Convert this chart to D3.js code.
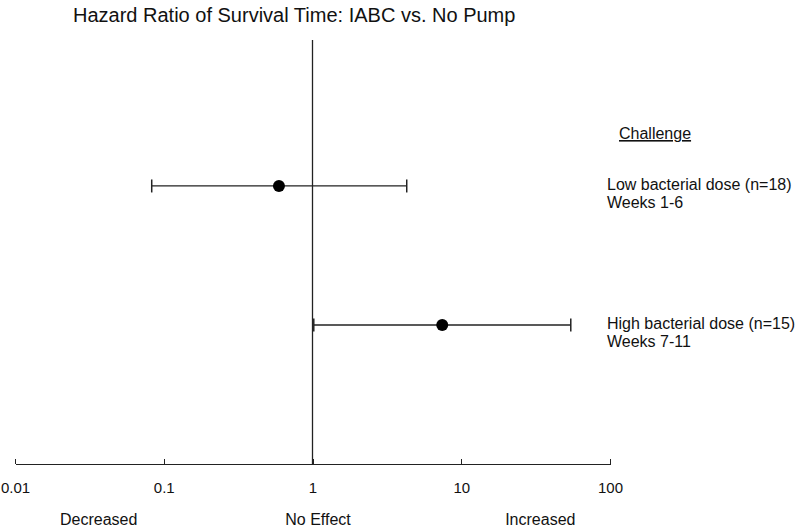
<!DOCTYPE html>
<html>
<head>
    <title>Hazard Ratio of Survival Time - D3.js</title>
    <script src="https://d3js.org/d3.v7.min.js"></script>
    <style>
        body { margin: 0; background: #fff; }
        text { font-family: "Liberation Sans", Arial, sans-serif; fill: #111; }
        .axis path, .axis line { stroke: #222; stroke-width: 1.3; shape-rendering: crispEdges; }
        .axis text { font-size: 15px; }
        .title { font-size: 20px; }
        .lbl { font-size: 16px; }
    </style>
</head>
<body>
<div id="chart"></div>
<script>
    // data
    const groups = ["Low bacterial dose (n=18)", "High bacterial dose (n=15)"];
    const subLabels = ["Weeks 1-6", "Weeks 7-11"];
    const hr = [0.595, 7.45];
    const lower = [0.083, 1.02];
    const upper = [4.3, 54.5];
    const tickValues = [0.01, 0.1, 1, 10, 100];
    const effectLabels = ["Decreased", "No Effect", "Increased"];
    const effectAt = [0.0365, 1.09, 34];

    const W = 800, H = 527;
    const svg = d3.select("#chart").append("svg")
        .attr("width", W).attr("height", H);

    // log x scale, rows stacked on y (row 0 = top of ref line, row 3 = axis)
    const x = d3.scaleLog().domain([0.01, 100]).range([15, 610]);
    const y = d3.scaleLinear().domain([-0.05, 3]).range([40, 464]);
    const rowY = i => y(i + 1);

    svg.append("text").attr("class", "title")
        .attr("x", 73).attr("y", 22)
        .text("Hazard Ratio of Survival Time: IABC vs. No Pump");

    // reference line at HR = 1
    svg.append("line")
        .attr("x1", x(1)).attr("x2", x(1))
        .attr("y1", y(-0.05)).attr("y2", y(3))
        .attr("stroke", "#222").attr("stroke-width", 1.3);

    // x axis, ticks pointing up
    svg.append("g").attr("class", "axis")
        .attr("transform", `translate(0,${y(3)})`)
        .call(d3.axisBottom(x).tickValues(tickValues)
            .tickFormat(d => String(d))
            .tickSizeInner(-5).tickSizeOuter(0).tickPadding(18))
        .call(g => g.selectAll("text").attr("fill", "#111"));

    svg.selectAll(".eff").data(effectLabels).enter().append("text")
        .attr("class", "lbl eff")
        .attr("x", (d, i) => x(effectAt[i]))
        .attr("y", 525)
        .attr("text-anchor", "middle")
        .text(d => d);

    // error bars
    const cap = 6.5;
    const rows = svg.selectAll(".row").data(groups).enter().append("g").attr("class", "row");
    rows.append("line")
        .attr("x1", (d, i) => x(lower[i])).attr("x2", (d, i) => x(upper[i]))
        .attr("y1", (d, i) => rowY(i)).attr("y2", (d, i) => rowY(i))
        .attr("stroke", "#222").attr("stroke-width", 1.3);
    rows.append("line")
        .attr("x1", (d, i) => x(lower[i])).attr("x2", (d, i) => x(lower[i]))
        .attr("y1", (d, i) => rowY(i) - cap).attr("y2", (d, i) => rowY(i) + cap)
        .attr("stroke", "#222").attr("stroke-width", 1.5);
    rows.append("line")
        .attr("x1", (d, i) => x(upper[i])).attr("x2", (d, i) => x(upper[i]))
        .attr("y1", (d, i) => rowY(i) - cap).attr("y2", (d, i) => rowY(i) + cap)
        .attr("stroke", "#222").attr("stroke-width", 1.5);
    rows.append("circle")
        .attr("cx", (d, i) => x(hr[i])).attr("cy", (d, i) => rowY(i))
        .attr("r", 6).attr("fill", "#000");

    // legend
    svg.append("text").attr("class", "lbl")
        .attr("x", 619).attr("y", 139)
        .attr("text-decoration", "underline")
        .text("Challenge");
    rows.append("text").attr("class", "lbl")
        .attr("x", 607).attr("y", (d, i) => rowY(i) + 4)
        .text(d => d);
    rows.append("text").attr("class", "lbl")
        .attr("x", 607).attr("y", (d, i) => rowY(i) + 22)
        .text((d, i) => subLabels[i]);
</script>
</body>
</html>
